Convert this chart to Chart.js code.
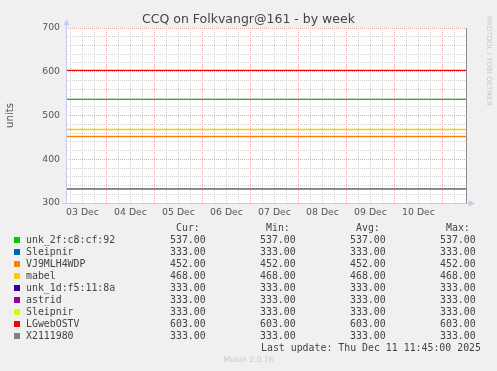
<!DOCTYPE html>
<html>
<head>
<meta charset="utf-8">
<script src="https://cdn.jsdelivr.net/npm/chart.js@4"></script>
<style>
    html, body { margin: 0; padding: 0; background: #f0f0f0; }
    #wrap { position: relative; width: 497px; height: 371px; overflow: hidden; }
    canvas { position: absolute; left: 0; top: 0; }
    .t { position: absolute; white-space: pre; }
    #title { left: 0; width: 497px; top: 11px; text-align: center; font: 12.5px "DejaVu Sans", sans-serif; color: #444; }
    #rrd { left: 483px; top: 16px; transform-origin: 0 0; transform: rotate(90deg) translate(0, -10px);
        font: 7px "DejaVu Sans", sans-serif; color: #c8c8c8; }
    .lg { font: 9.9px "DejaVu Sans Mono", monospace; color: #444; line-height: 12px; }
    .sw { position: absolute; width: 6px; height: 6px; }
    #munin { left: 0; width: 497px; top: 355px; text-align: center; font: 7.6px "DejaVu Sans", sans-serif; color: #c8c8c8; }
</style>
</head>
<body>
<div id="wrap">
    <canvas id="chart" width="497" height="371"></canvas>
    <div id="title" class="t">CCQ on Folkvangr@161 - by week</div>
    <div id="rrd" class="t">RRDTOOL / TOBI OETIKER</div>
    <div id="legend"></div>
    <div id="munin" class="t">Munin 2.0.76</div>
</div>
<script>
// time axis in hours since 03 Dec 00:00
const xStart = 3.75;   // 03 Dec 03:45
const xEnd = 203.75;   // 11 Dec 11:45
const dayLabels = ['03 Dec', '04 Dec', '05 Dec', '06 Dec', '07 Dec', '08 Dec', '09 Dec', '10 Dec'];

const seriesNames = ['unk_2f:c8:cf:92', 'Sleipnir', 'VJ9MLH4WDP', 'mabel', 'unk_1d:f5:11:8a',
    'astrid', 'Sleipnir', 'LGwebOSTV', 'X2111980'];
const seriesColors = ['#00cc00', '#0066b3', '#ff8000', '#ffcc00', '#330099',
    '#990099', '#ccff00', '#ff0000', '#808080'];
const curValues = [537, 333, 452, 468, 333, 333, 333, 603, 333];
const minValues = [537, 333, 452, 468, 333, 333, 333, 603, 333];
const avgValues = [537, 333, 452, 468, 333, 333, 333, 603, 333];
const maxValues = [537, 333, 452, 468, 333, 333, 333, 603, 333];
const lastUpdate = 'Last update: Thu Dec 11 11:45:00 2025';

const MAJOR = '#eaa8a8';
const MINOR = '#d0d0d0';
const AXIS = '#c8c8f4';

// white plot area + axis arrows + right border
const frame = {
    id: 'frame',
    beforeDraw(chart) {
        const { ctx, chartArea: a } = chart;
        ctx.save();
        ctx.fillStyle = '#ffffff';
        ctx.fillRect(a.left, a.top, a.right - a.left, a.bottom - a.top);
        ctx.restore();
    },
    afterDraw(chart) {
        const { ctx, chartArea: a } = chart;
        ctx.save();
        ctx.strokeStyle = '#8c8c8c';
        ctx.lineWidth = 1;
        ctx.beginPath();
        ctx.moveTo(a.right + 0.5, a.top);
        ctx.lineTo(a.right + 0.5, a.bottom);
        ctx.stroke();
        ctx.strokeStyle = AXIS;
        ctx.beginPath();
        ctx.moveTo(a.left + 0.5, a.bottom);
        ctx.lineTo(a.left + 0.5, a.top - 5);
        ctx.moveTo(a.left - 4, a.bottom + 0.5);
        ctx.lineTo(a.right + 4, a.bottom + 0.5);
        ctx.stroke();
        ctx.fillStyle = AXIS;
        ctx.beginPath();
        ctx.moveTo(a.left - 2.5, a.top - 3);
        ctx.lineTo(a.left + 3.5, a.top - 3);
        ctx.lineTo(a.left + 0.5, a.top - 9);
        ctx.closePath();
        ctx.fill();
        ctx.beginPath();
        ctx.moveTo(a.right + 3, a.bottom - 2.5);
        ctx.lineTo(a.right + 3, a.bottom + 3.5);
        ctx.lineTo(a.right + 9, a.bottom + 0.5);
        ctx.closePath();
        ctx.fill();
        ctx.restore();
    },
};

const datasets = seriesNames.map((name, i) => ({
    label: name,
    data: [{ x: xStart, y: curValues[i] }, { x: xEnd, y: curValues[i] }],
    borderColor: seriesColors[i],
    backgroundColor: seriesColors[i],
    borderWidth: 1.3,
    pointRadius: 0,
    order: seriesNames.length - i,
}));

const tickFont = { family: 'DejaVu Sans', size: 9.3 };

new Chart(document.getElementById('chart'), {
    type: 'line',
    data: { datasets },
    plugins: [frame],
    options: {
        responsive: false,
        animation: false,
        layout: { padding: { left: 0, right: 31, top: 28, bottom: 0 } },
        plugins: {
            legend: { display: false },
            tooltip: { enabled: false },
        },
        scales: {
            x: {
                type: 'linear',
                min: xStart,
                max: xEnd,
                afterBuildTicks(scale) {
                    const ticks = [];
                    for (let h = 6; h < xEnd; h += 6) ticks.push({ value: h });
                    scale.ticks = ticks;
                },
                afterFit(scale) { scale.height = 168; },
                grid: {
                    drawTicks: false,
                    color: (ctx) => (ctx.tick && ctx.tick.value % 24 === 0 ? MAJOR : MINOR),
                    lineWidth: 1,
                },
                border: { display: false, dash: [1, 1] },
                ticks: {
                    autoSkip: false,
                    maxRotation: 0,
                    padding: 4,
                    color: '#555',
                    font: tickFont,
                    callback: (v) => (v % 24 === 12 ? dayLabels[(v - 12) / 24] : ''),
                },
            },
            y: {
                min: 300,
                max: 700,
                afterFit(scale) { scale.width = 66; },
                grid: {
                    drawTicks: false,
                    color: (ctx) => (ctx.tick && ctx.tick.value % 100 === 0 ? MAJOR : MINOR),
                    lineWidth: 1,
                },
                border: { display: false, dash: [1, 1] },
                ticks: {
                    stepSize: 20,
                    autoSkip: false,
                    padding: 6,
                    color: '#555',
                    font: tickFont,
                    callback: (v) => (v % 100 === 0 ? String(v) : ''),
                },
                title: {
                    display: true,
                    text: 'units',
                    color: '#555',
                    font: { family: 'DejaVu Sans', size: 10.2 },
                    padding: { top: 4, bottom: 0 },
                },
            },
        },
    },
});

// legend table below the plot
const legend = document.getElementById('legend');
function addText(text, left, top) {
    const d = document.createElement('div');
    d.className = 't lg';
    d.style.left = left + 'px';
    d.style.top = top + 'px';
    d.textContent = text;
    legend.appendChild(d);
}
const rowTop = 222;
const rowStep = 12;
addText('Cur:', 176, rowTop);
addText('Min:', 266, rowTop);
addText('Avg:', 356, rowTop);
addText('Max:', 446, rowTop);
seriesNames.forEach((name, i) => {
    const top = rowTop + rowStep * (i + 1);
    const sw = document.createElement('div');
    sw.className = 'sw';
    sw.style.left = '14px';
    sw.style.top = (top + 3) + 'px';
    sw.style.background = seriesColors[i];
    legend.appendChild(sw);
    addText(name, 26, top);
    addText(curValues[i].toFixed(2), 170, top);
    addText(minValues[i].toFixed(2), 260, top);
    addText(avgValues[i].toFixed(2), 350, top);
    addText(maxValues[i].toFixed(2), 440, top);
});
addText(lastUpdate, 261, rowTop + rowStep * (seriesNames.length + 1));
</script>
</body>
</html>
